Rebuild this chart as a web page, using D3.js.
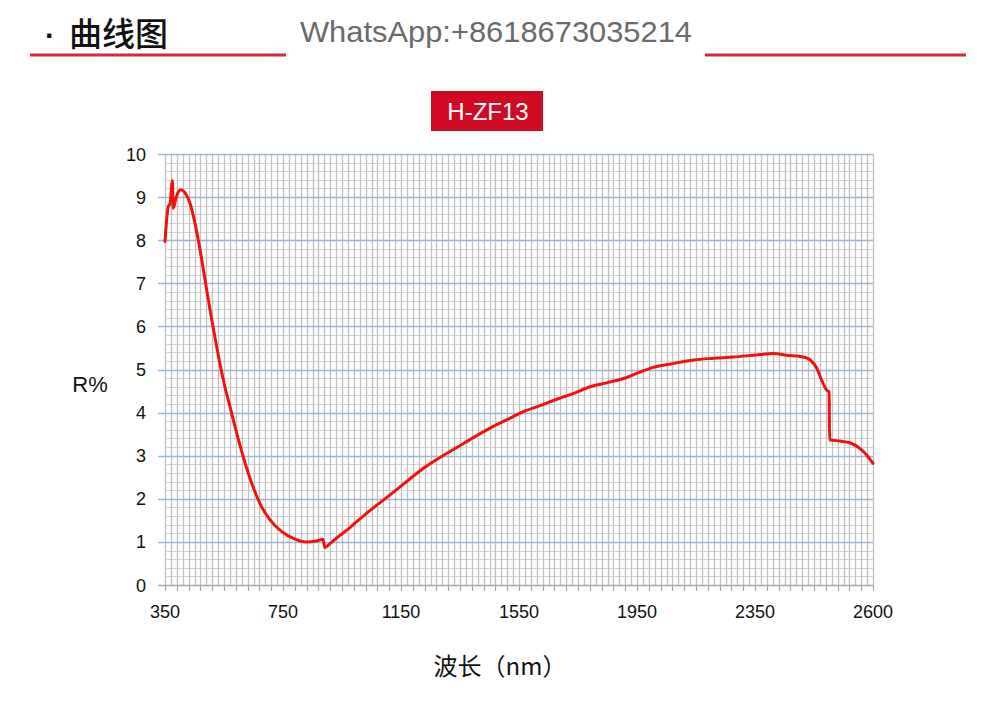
<!DOCTYPE html>
<html>
<head>
<meta charset="utf-8">
<script src="https://cdn.jsdelivr.net/npm/d3@7"></script>
<style>
  html, body { margin: 0; padding: 0; background: #ffffff; }
  svg { display: block; }
</style>
</head>
<body>
<svg id="chart" width="990" height="704"></svg>
<script>
// ---- data ----
const wavelengths = [350, 361, 367, 375, 378, 387, 395, 404, 418, 435, 452, 469, 486, 503, 519, 536, 553, 574, 587, 615, 644, 672, 706, 746, 785, 825, 864, 885, 892, 909, 943, 977, 1000, 1056, 1113, 1169, 1226, 1282, 1339, 1395, 1452, 1508, 1565, 1621, 1678, 1734, 1791, 1847, 1904, 1960, 2005, 2073, 2141, 2209, 2276, 2344, 2389, 2417, 2452, 2467, 2481, 2491, 2502, 2507, 2508, 2530, 2551, 2572, 2587, 2600];
const reflectance = [7.97, 8.78, 8.85, 9.38, 8.74, 8.97, 9.12, 9.17, 9.10, 8.85, 8.38, 7.77, 7.07, 6.37, 5.76, 5.14, 4.60, 4.04, 3.68, 2.98, 2.36, 1.89, 1.51, 1.24, 1.08, 1.00, 1.02, 1.06, 0.87, 0.96, 1.15, 1.33, 1.47, 1.79, 2.09, 2.40, 2.71, 2.96, 3.19, 3.42, 3.64, 3.83, 4.02, 4.16, 4.31, 4.44, 4.60, 4.69, 4.79, 4.94, 5.05, 5.14, 5.22, 5.26, 5.29, 5.33, 5.37, 5.33, 5.29, 5.22, 5.03, 4.76, 4.52, 4.48, 3.37, 3.34, 3.30, 3.17, 3.01, 2.82];
const xTickLabels = [350, 750, 1150, 1550, 1950, 2350, 2600];
const yTickLabels = [0, 1, 2, 3, 4, 5, 6, 7, 8, 9, 10];
const seriesName = "H-ZF13";
const headerBullet = "·";
const headerTitle = "曲线图";
const headerContact = "WhatsApp:+8618673035214";
const xAxisTitle = "波长（nm）";
const yAxisTitle = "R%";

// ---- layout ----
const svg = d3.select("#chart");
const pLeft = 165, pRight = 873, pTop = 154, pBottom = 585;

// category-style axis: each labelled interval occupies equal width
const x = d3.scaleLinear()
  .domain(xTickLabels)
  .range(xTickLabels.map((d, i) => pLeft + i * (pRight - pLeft) / (xTickLabels.length - 1)));
const y = d3.scaleLinear().domain([0, 10]).range([pBottom, pTop]);

// minor vertical grid: 20 subdivisions per labelled interval
const vGrid = [];
for (let i = 0; i < xTickLabels.length - 1; i++) {
  const a = xTickLabels[i], b = xTickLabels[i + 1];
  for (let k = 0; k < 20; k++) vGrid.push(a + (b - a) * k / 20);
}
vGrid.push(xTickLabels[xTickLabels.length - 1]);
const xTickMarks = vGrid.filter((d, i) => i % 2 === 0);

const hMinor = d3.range(0, 50).map(i => i / 5).filter(v => Math.abs(v - Math.round(v)) > 1e-6);

const g = svg.append("g");

// horizontal minor grid
g.selectAll(".hmin").data(hMinor).join("line")
  .attr("x1", pLeft).attr("x2", pRight)
  .attr("y1", d => Math.round(y(d)) + 0.5).attr("y2", d => Math.round(y(d)) + 0.5)
  .attr("stroke", "#d4d4d4").attr("stroke-width", 1);

// vertical grid
g.selectAll(".vg").data(vGrid).join("line")
  .attr("x1", d => Math.round(x(d)) + 0.5).attr("x2", d => Math.round(x(d)) + 0.5)
  .attr("y1", pTop).attr("y2", pBottom)
  .attr("stroke", "#c0c0c0").attr("stroke-width", 1.3);

// horizontal major grid (extends left as tick marks)
g.selectAll(".hmaj").data(yTickLabels.filter(d => d > 0)).join("line")
  .attr("x1", pLeft - 7).attr("x2", pRight)
  .attr("y1", d => Math.round(y(d)) + 0.5).attr("y2", d => Math.round(y(d)) + 0.5)
  .attr("stroke", "#9db4d3").attr("stroke-width", 1.3);

// x axis line
g.append("line")
  .attr("x1", pLeft - 7).attr("x2", pRight)
  .attr("y1", pBottom + 0.5).attr("y2", pBottom + 0.5)
  .attr("stroke", "#a8a8a8").attr("stroke-width", 1.3);

// x tick marks
g.selectAll(".xt").data(xTickMarks).join("line")
  .attr("x1", d => Math.round(x(d)) + 0.5).attr("x2", d => Math.round(x(d)) + 0.5)
  .attr("y1", pBottom).attr("y2", pBottom + 6)
  .attr("stroke", "#a8a8a8").attr("stroke-width", 1.2);

// tick labels
const tickFont = "'Liberation Sans', Arial, sans-serif";
g.selectAll(".xl").data(xTickLabels).join("text")
  .attr("x", d => x(d)).attr("y", 618)
  .attr("text-anchor", "middle")
  .attr("font-family", tickFont).attr("font-size", 18)
  .attr("fill", "#111").text(d => d);

g.selectAll(".yl").data(yTickLabels).join("text")
  .attr("x", 146).attr("y", d => y(d) + 6.5)
  .attr("text-anchor", "end")
  .attr("font-family", tickFont).attr("font-size", 18)
  .attr("fill", "#111").text(d => d);

// series line
const data = wavelengths.map((w, i) => ({ w, r: reflectance[i] }));
const line = d3.line().x(d => x(d.w)).y(d => y(d.r)).curve(d3.curveMonotoneX);
g.append("path").datum(data)
  .attr("d", line)
  .attr("fill", "none")
  .attr("stroke", "#f21010")
  .attr("stroke-width", 3)
  .attr("stroke-linejoin", "round")
  .attr("stroke-linecap", "round");

// axis titles
svg.append("text").attr("x", 90).attr("y", 392)
  .attr("text-anchor", "middle")
  .attr("font-family", "'Liberation Sans', Arial, sans-serif").attr("font-size", 22)
  .attr("fill", "#111").text(yAxisTitle);

svg.append("text").attr("x", 500).attr("y", 675)
  .attr("text-anchor", "middle")
  .attr("font-family", "'Noto Sans CJK SC', sans-serif").attr("font-size", 24)
  .attr("fill", "#111").text(xAxisTitle);

// series title box
svg.append("rect").attr("x", 431).attr("y", 91).attr("width", 112).attr("height", 40)
  .attr("fill", "#d10a23");
svg.append("text").attr("x", 488).attr("y", 120)
  .attr("text-anchor", "middle")
  .attr("font-family", "'Liberation Sans', Arial, sans-serif").attr("font-size", 24)
  .attr("fill", "#ffffff").text(seriesName);

// header
svg.append("text").attr("x", 45).attr("y", 46)
  .attr("font-family", "'Liberation Sans', Arial, sans-serif").attr("font-size", 30).attr("font-weight", "bold")
  .attr("fill", "#111").text(headerBullet);
svg.append("text").attr("x", 69).attr("y", 46)
  .attr("font-family", "'Noto Sans CJK SC', sans-serif").attr("font-size", 33).attr("font-weight", 500)
  .attr("fill", "#111").text(headerTitle);
svg.append("text").attr("x", 300).attr("y", 42)
  .attr("font-family", "'Liberation Sans', Arial, sans-serif").attr("font-size", 30)
  .attr("textLength", 392).attr("lengthAdjust", "spacingAndGlyphs")
  .attr("fill", "#6a6a6a").text(headerContact);
svg.append("line").attr("x1", 30).attr("x2", 286).attr("y1", 55).attr("y2", 55)
  .attr("stroke", "#d42a3a").attr("stroke-width", 3);
svg.append("line").attr("x1", 705).attr("x2", 966).attr("y1", 55).attr("y2", 55)
  .attr("stroke", "#d42a3a").attr("stroke-width", 3);
</script>
</body>
</html>
